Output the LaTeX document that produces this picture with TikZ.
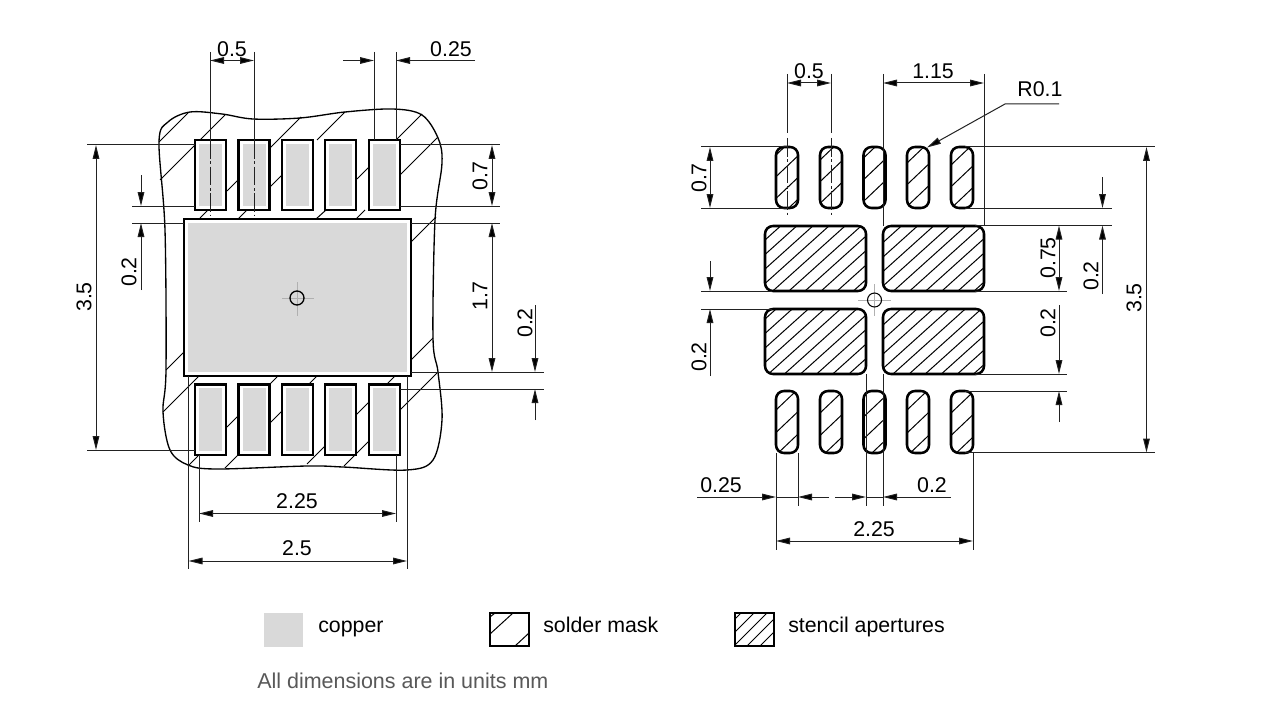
\documentclass[tikz,border=0pt]{standalone}
\usepackage{fontspec}
\setmainfont{Liberation Sans}
\usetikzlibrary{arrows.meta}
\definecolor{dimc}{HTML}{222222}
\definecolor{cu}{HTML}{D9D9D9}
\definecolor{crossc}{HTML}{B0B0B0}
\tikzset{
  x=.75pt,y=-.75pt,
  T/.tip={Triangle[length=10.5pt,width=5pt,fill=black]},
  dimline/.style={draw=dimc,line width=.75pt},
  extline/.style={draw=dimc,line width=.75pt},
  centerline/.style={draw=dimc,line width=.75pt,dash pattern=on 14pt off 2pt on 2pt off 2pt},
  hatch/.style={draw=black,line width=.75pt},
  outline/.style={draw=black,line width=1.9pt},
  contour/.style={draw=black,line width=1pt},
  lab/.style={inner sep=0pt,font=\fontsize{16pt}{18pt}\selectfont,text=black},
  vlab/.style={lab,rotate=90},
  crossline/.style={draw=crossc,line width=.6pt},
}
% left-edge hatched aperture: x1 y1 x2 y2 radius firstY step slope
\newcommand{\aperture}[8]{%
  \begin{scope}
    \clip[rounded corners=#5*.75pt] (#1,#2) rectangle (#3,#4);
    \foreach \k in {-8,...,14}{
      \pgfmathsetmacro{\ya}{#6+\k*#7}
      \pgfmathsetmacro{\yb}{\ya-(#3-#1)*#8}
      \draw[hatch] (#1,\ya) -- (#3,\yb);
    }
  \end{scope}
  \draw[outline,rounded corners=#5*.75pt] (#1,#2) rectangle (#3,#4);
}
\begin{document}
\begin{tikzpicture}
\useasboundingbox[fill=white] (0,0) rectangle (1280,713);

% ---- left drawing: solder-mask contour
\draw[contour] plot[smooth cycle,tension=.55] coordinates {
 (159,142) (168,122) (190,112) (222,114) (253,119) (300,118) (345,112) (393,109) (422,115) (438,138)
 (442,163) (435,220) (433,338) (438,372) (442,420) (433,460) (407,470) (343,467)
 (307,466) (217,469) (188,465) (170,450) (163,412) (166,370) (165,230)};

% mask hatching
\foreach \a/\b/\c/\d in {
 159/142/188/113, 160/180/195/145, 200/140/225/115,
 270/148/301/117, 227/191/238/180, 200/218/208/210,
 317/140/345/112, 270/187/282/175, 238/219/247/210,
 396/140/422/114, 357/179/369/167, 316/219/326/210, 166/370/184/352,
 400/175/438/137, 356/219/365/210, 163/412/199/376,
 436/217/411/242, 277/377/270/384, 238/416/227/427, 198/456/188/466,
 282/411/270/423, 238/455/225/468, 317/376/309/384,
 433/338/411/360, 395/376/387/384, 369/402/356/415, 325/446/307/464,
 437/373/400/410, 369/441/344/466}
 {\draw[hatch] (\a,\b) -- (\c,\d);}

% copper pads
\foreach \x in {195,238.5,282,325,369}{
  \fill[cu] (\x+4,144) rectangle (\x+27,206);
  \draw[outline] (\x,140) rectangle (\x+31,210);
  \fill[cu] (\x+4,388) rectangle (\x+27,451);
  \draw[outline] (\x,384.5) rectangle (\x+31,455);
}
\fill[cu] (188,223) rectangle (407,372);
\draw[outline] (184,219) rectangle (411,376);

% centre mark left
\draw[crossline] (282,298) -- (314,298) (297,282) -- (297,316);
\draw[black,line width=1pt] (297,298) circle[radius=7];

% left dims
\draw[extline] (210,52) -- (210,140) (254,52) -- (254,140);
\draw[centerline] (210,140) -- (210,215);
\draw[centerline] (254,140) -- (254,215);
\draw[dimline,{T}-{T}] (210,60.5) -- (254,60.5);
\node[lab] (l05) at (232,49) {0.5};

\draw[extline] (374,52) -- (374,140) (396,52) -- (396,140);
\draw[dimline,-{T}] (343,60.5) -- (374,60.5);
\draw[dimline,-{T}] (475,60.5) -- (396,60.5);
\node[lab] (l025) at (451,49) {0.25};

\draw[extline] (87,145) -- (195,145) (87,450) -- (195,450);
\draw[dimline,{T}-{T}] (96,145) -- (96,450);
\node[vlab] (l35) at (84,297) {3.5};

\draw[extline] (132,206) -- (195,206) (132,223) -- (184,223);
\draw[dimline,-{T}] (141,175) -- (141,206);
\draw[dimline,-{T}] (141,290) -- (141,223);
\node[vlab] (l02a) at (129,272) {0.2};

\draw[extline] (400,145) -- (500,145) (400,206) -- (500,206) (411,223) -- (500,223);
\draw[dimline,{T}-{T}] (492,145) -- (492,206);
\node[vlab] (l07) at (480,176) {0.7};
\draw[dimline,{T}-{T}] (492,223) -- (492,372);
\node[vlab] (l17) at (480,296) {1.7};

\draw[extline] (411,372) -- (544,372) (400,389) -- (544,389);
\draw[dimline,-{T}] (535,305) -- (535,372);
\draw[dimline,-{T}] (535,420) -- (535,389);
\node[vlab] (l02b) at (525,323) {0.2};

\draw[extline] (199,455) -- (199,522) (396,455) -- (396,522);
\draw[dimline,{T}-{T}] (199,513.5) -- (396,513.5);
\node[lab] (l225) at (297,501) {2.25};
\draw[extline] (188.5,376) -- (188.5,569) (407,376) -- (407,569);
\draw[dimline,{T}-{T}] (188.5,561) -- (407,561);
\node[lab] (l25) at (297,548.5) {2.5};

% ---- right drawing: stencil apertures
\aperture{776}{147}{798}{208}{8}{155}{21.7}{.95}
\aperture{820}{147}{842}{208}{8}{160}{21.7}{.95}
\aperture{863.5}{147}{885.5}{208}{8}{158}{21.7}{.95}
\aperture{907}{147}{929}{208}{8}{163}{21.7}{.95}
\aperture{951}{147}{973}{208}{8}{165}{21.7}{.95}
\aperture{776}{391}{798}{453}{8}{410}{22.5}{.95}
\aperture{820}{391}{842}{453}{8}{413}{22.5}{.95}
\aperture{863.5}{391}{885.5}{453}{8}{395}{22}{.95}
\aperture{907}{391}{929}{453}{8}{410}{23}{.95}
\aperture{951}{391}{973}{453}{8}{413}{22.5}{.95}
\aperture{765}{226}{866}{291}{8}{298}{14.5}{.9}
\aperture{883}{226}{984}{291}{8}{257}{14.5}{.9}
\aperture{765}{309}{866}{374}{8}{377}{14.5}{.9}
\aperture{883}{309}{984}{374}{8}{325}{14.5}{.9}

% centre mark right
\draw[crossline] (858,300) -- (891,300) (874.5,284) -- (874.5,316);
\draw[black,line width=.8pt] (874.5,300) circle[radius=7];

% right dims
\draw[extline] (787,74) -- (787,133) (831,74) -- (831,133);
\draw[centerline] (787,138) -- (787,217);
\draw[centerline] (831,138) -- (831,217);
\draw[dimline,{T}-{T}] (787,83) -- (831,83);
\node[lab] (r05) at (809,71) {0.5};

\draw[extline] (883,74) -- (883,226) (984,74) -- (984,226);
\draw[dimline,{T}-{T}] (883,83) -- (984,83);
\node[lab] (r115) at (933,71) {1.15};

\coordinate (tipR) at (927,147.5);
\coordinate (kneeR) at (1005,104);
\coordinate (endR) at (1059,104);
\draw[dimline,{T}-] (tipR) -- (kneeR) -- (endR);
\node[lab] (rr) at (1040,89) {R0.1};

\draw[extline] (701,147) -- (787,147) (701,208) -- (787,208);
\draw[dimline,{T}-{T}] (710,147) -- (710,208);
\node[vlab] (r07) at (699,178) {0.7};

\draw[extline] (701,291) -- (772,291) (701,309) -- (772,309);
\draw[dimline,-{T}] (710,261) -- (710,291);
\draw[dimline,-{T}] (710,376) -- (710,309);
\node[vlab] (r02a) at (699,357) {0.2};

\draw[extline] (965,147) -- (1155,147) (965,452.5) -- (1155,452.5);
\draw[dimline,{T}-{T}] (1146.5,147) -- (1146.5,452.5);
\node[vlab] (r35) at (1134,298) {3.5};

\draw[extline] (965,208) -- (1112,208) (975,225.5) -- (1112,225.5);
\draw[dimline,-{T}] (1102.5,177) -- (1102.5,208);
\draw[dimline,-{T}] (1102.5,294) -- (1102.5,225.5);
\node[vlab] (r02b) at (1091,276) {0.2};

\draw[extline] (975,291) -- (1067,291);
\draw[dimline,{T}-{T}] (1059,225.5) -- (1059,291);
\node[vlab] (r075) at (1048,258) {0.75};

\draw[extline] (975,374) -- (1067,374) (965,391) -- (1067,391);
\draw[dimline,-{T}] (1059,305) -- (1059,374);
\draw[dimline,-{T}] (1059,422) -- (1059,391);
\node[vlab] (r02c) at (1048,323) {0.2};

\draw[extline] (776,453) -- (776,550) (973,453) -- (973,550);
\draw[extline] (798,453) -- (798,506);
\draw[extline] (866,374) -- (866,506) (883,374) -- (883,506);
\draw[dimline,-{T}] (697,497) -- (776,497);
\draw[dimline] (776,497) -- (798,497);
\draw[dimline,-{T}] (829,497) -- (798,497);
\draw[dimline,-{T}] (835,497) -- (866,497);
\draw[dimline] (866,497) -- (883,497);
\draw[dimline,-{T}] (950.5,497) -- (883,497);
\node[lab] (r025) at (721,485) {0.25};
\node[lab] (r02d) at (932,485) {0.2};
\draw[dimline,{T}-{T}] (776,541) -- (973,541);
\node[lab] (r225) at (874,529) {2.25};

% ---- legend
\fill[cu] (264,613) rectangle (303,647);
\node[lab,anchor=base west] (lg1) at (318,632) {copper};

\draw[hatch] (490,617) -- (495,613) (490,634) -- (513,613) (515,646) -- (529,633);
\draw[black,line width=.9pt] (490,613) rectangle (529,646);
\node[lab,anchor=base west] (lg2) at (543,632) {solder mask};

\begin{scope}
  \clip (735,613) rectangle (774,646);
  \foreach \c in {1354,1367,1380,1393,1406,1419}
    \draw[hatch] (735,\c-735) -- (774,\c-774);
\end{scope}
\draw[black,line width=.9pt] (735,613) rectangle (774,646);
\node[lab,anchor=base west] (lg3) at (788,632) {stencil apertures};

\node[lab,anchor=base west,text=black!65,font=\fontsize{16.1pt}{18pt}\selectfont] (note) at (257,688) {All dimensions are in units mm};
\end{tikzpicture}
\end{document}
